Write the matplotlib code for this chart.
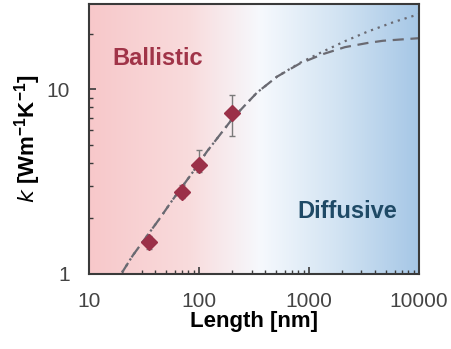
import numpy as np
import matplotlib.pyplot as plt
from matplotlib.colors import LinearSegmentedColormap

plt.rcParams['font.family'] = ['Liberation Sans', 'DejaVu Sans']

# Measured points
length_nm = [35, 70, 100, 200]
k_meas = [1.49, 2.79, 3.91, 7.4]
k_err_lo = [0.12, 0.2, 0.35, 1.8]
k_err_hi = [0.12, 0.25, 0.8, 1.9]

# Dashed curve
dash_L = [20, 25, 44, 57, 86, 118, 204, 337, 512, 828, 1340, 2120, 3400, 4700, 10000]
dash_k = [1.02, 1.26, 2.0, 2.5, 3.5, 4.6, 7.0, 9.6, 11.7, 13.8, 15.5, 16.9, 17.8, 18.3, 18.9]

# Dotted curve
dot_L = [20, 25, 44, 57, 86, 118, 204, 337, 512, 828, 1340, 2120, 3400, 6000, 10000]
dot_k = [1.02, 1.26, 2.0, 2.5, 3.5, 4.6, 7.0, 9.6, 11.7, 13.9, 16.0, 18.2, 20.5, 23.2, 25.5]

fig = plt.figure(figsize=(4.52, 3.49), dpi=100)
ax = fig.add_axes([0.197, 0.215, 0.730, 0.774])

# background gradient pink -> white -> blue
cmap = LinearSegmentedColormap.from_list(
    'bd', [(0.0, '#f7c8ca'), (0.3, '#f9dbdc'), (0.52, '#f6f9fd'),
           (0.75, '#d3e4f3'), (1.0, '#a6c7e6')])
grad = np.linspace(0, 1, 256).reshape(1, -1)
ax.imshow(grad, cmap=cmap, aspect='auto', extent=[0, 1, 0, 1],
          transform=ax.transAxes, zorder=0)

ax.set_xscale('log')
ax.set_yscale('log')
ax.set_xlim(10, 10000)
ax.set_ylim(1, 29)

ax.plot(dot_L, dot_k, linestyle=(0, (1, 2.2)), color='#6a6a72', lw=1.6, zorder=2)
ax.plot(dash_L, dash_k, linestyle=(0, (5, 3)), color='#6a6a72', lw=1.6, zorder=2)

ax.errorbar(length_nm, k_meas, yerr=[k_err_lo, k_err_hi], fmt='D',
            color='#9b3048', ms=8.5, ecolor='#7a7a7a', elinewidth=1,
            capsize=2, zorder=3)

ax.text(0.07, 0.796, 'Ballistic', transform=ax.transAxes, color='#a03448',
        fontsize=17, fontweight='bold', va='center')
ax.text(0.63, 0.23, 'Diffusive', transform=ax.transAxes, color='#1f4a66',
        fontsize=17, fontweight='bold', va='center')

ax.set_xticks([10, 100, 1000, 10000])
ax.set_xticklabels(['10', '100', '1000', '10000'])
ax.set_yticks([1, 10])
ax.set_yticklabels(['1', '10'])
ax.tick_params(which='both', direction='in', labelsize=15, colors='#3a3a3a',
               labelcolor='#444444')
ax.tick_params(which='major', length=5, width=1.2)
ax.tick_params(which='minor', length=3, width=1)
ax.tick_params(axis='x', pad=13)
ax.tick_params(axis='y', pad=14)

for s in ax.spines.values():
    s.set_color('#3a3a3a')
    s.set_linewidth(1.5)

ax.set_xlabel('Length [nm]', fontsize=16, fontweight='bold', labelpad=0)
ax.set_ylabel(r'$\mathit{k}$ [Wm$^{\mathdefault{-1}}$K$^{\mathdefault{-1}}$]',
              fontsize=16, fontweight='bold', labelpad=2)

fig.savefig('out.png', dpi=100)
